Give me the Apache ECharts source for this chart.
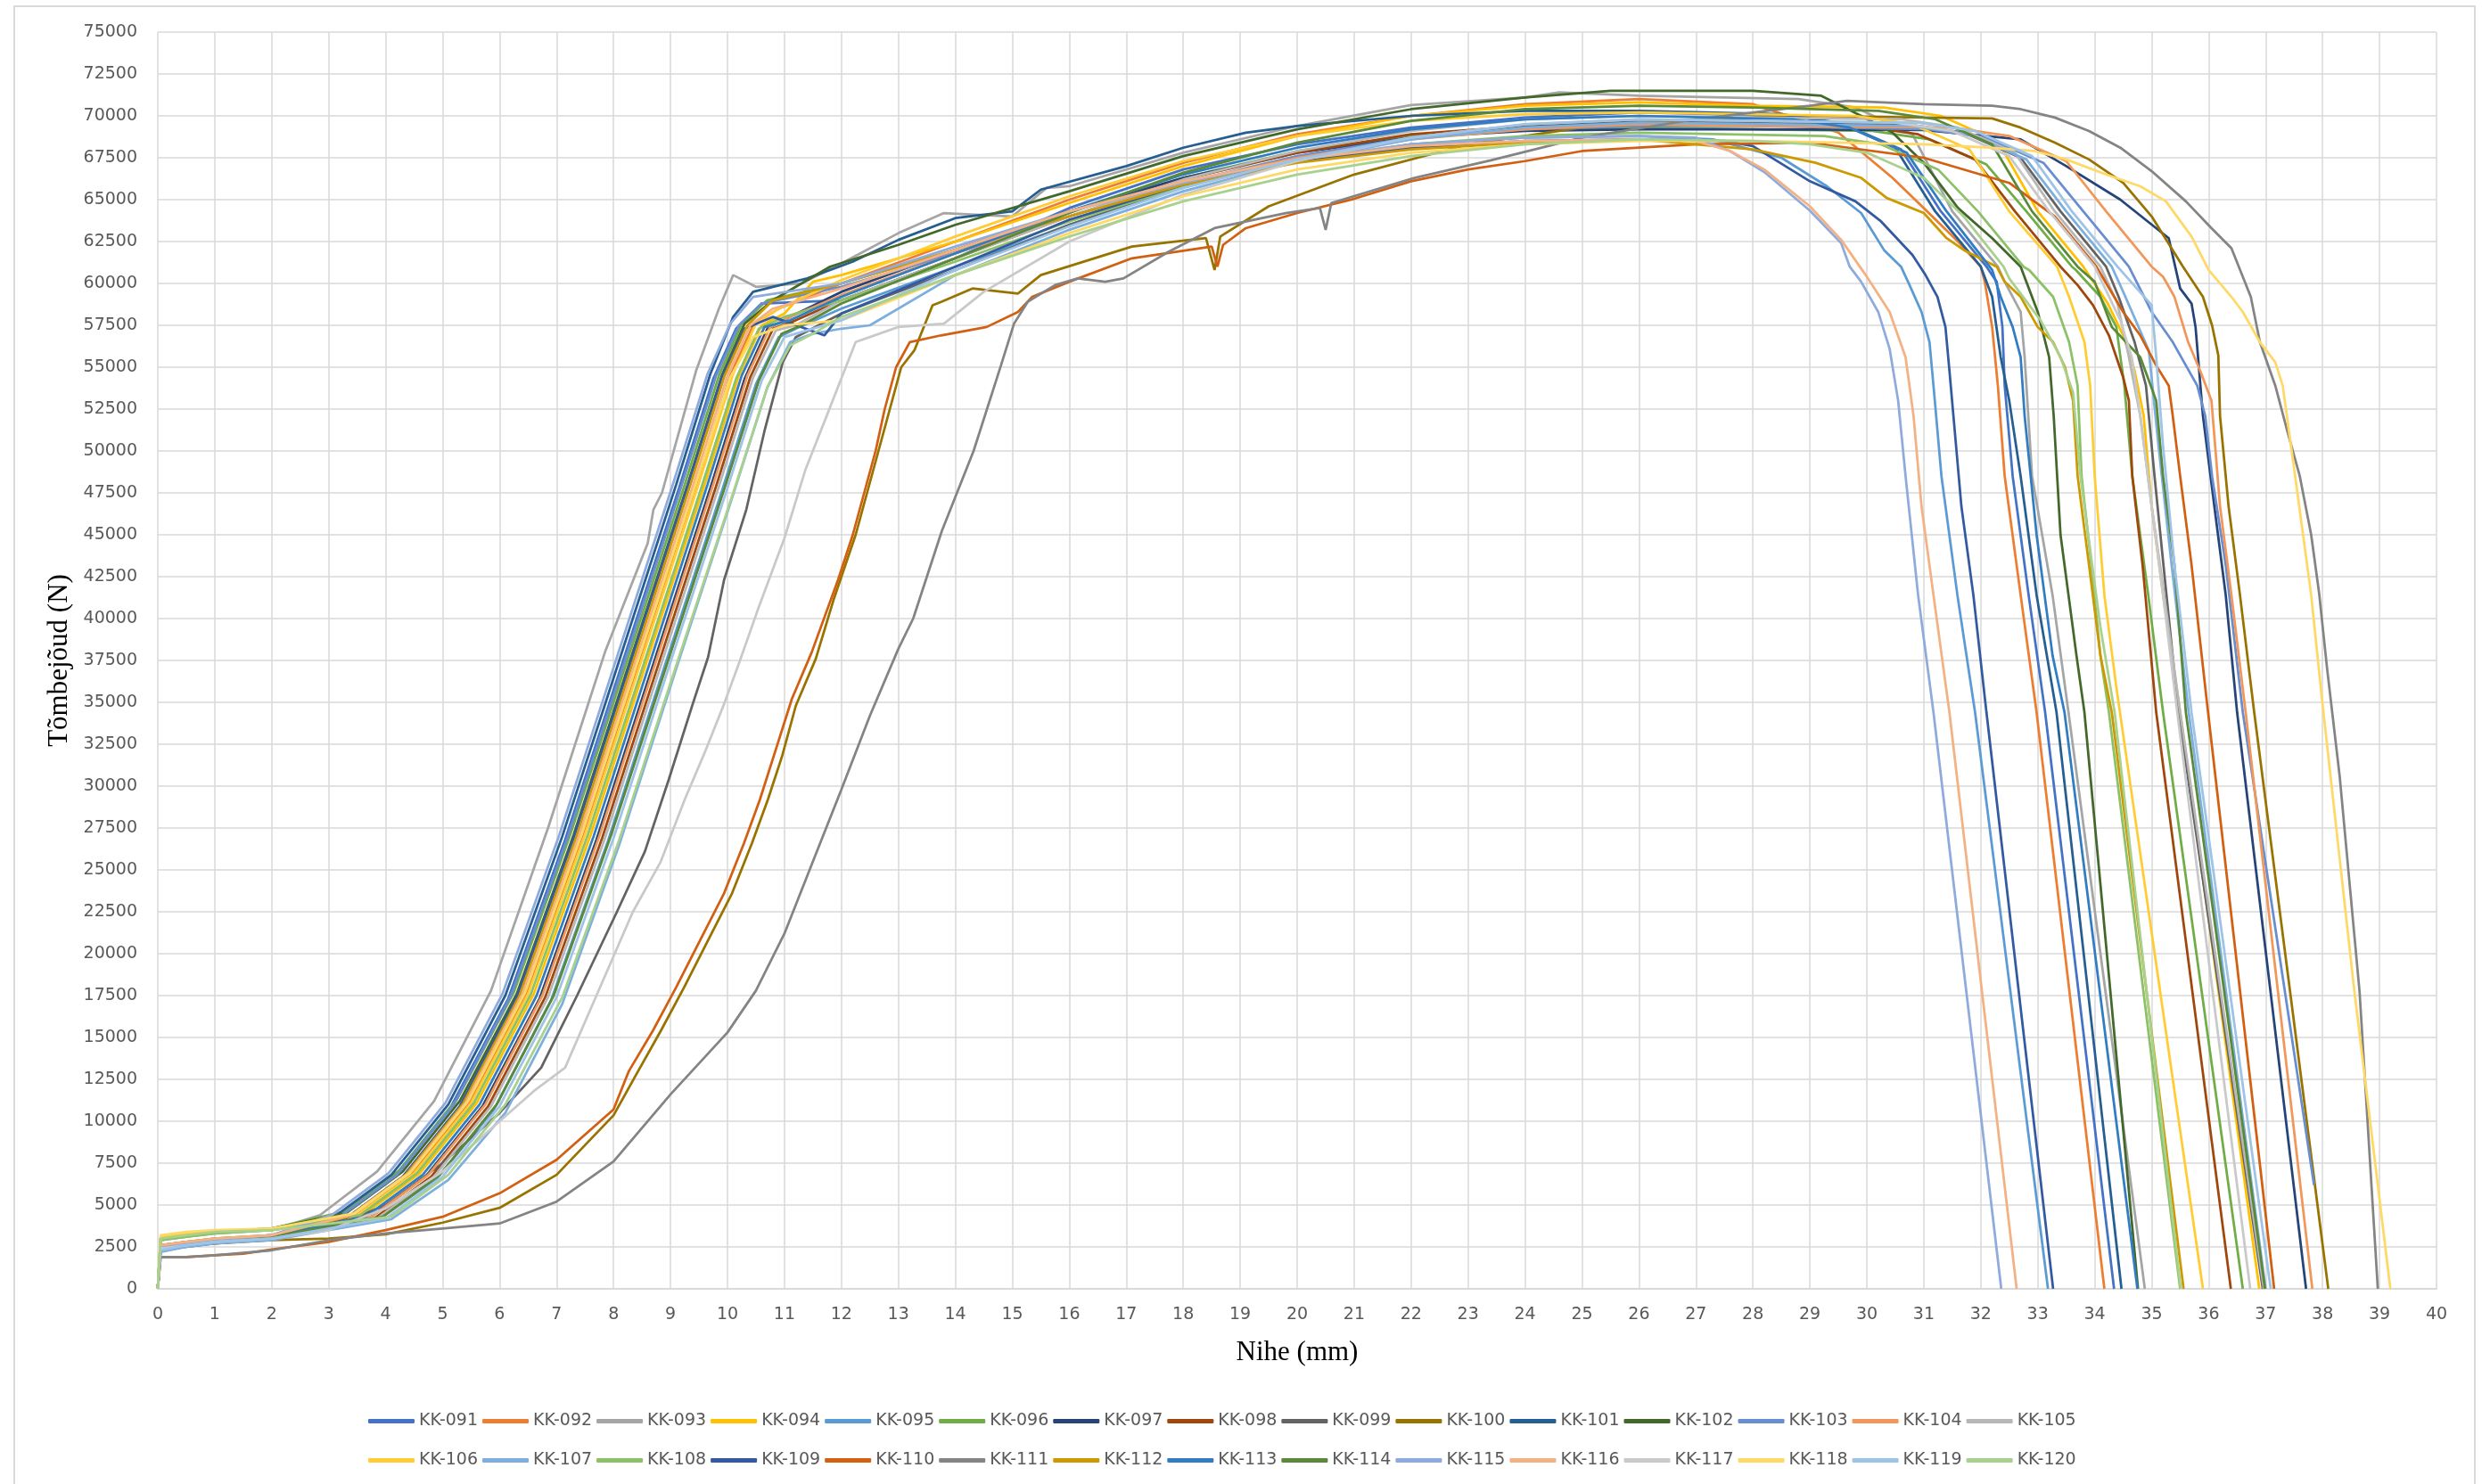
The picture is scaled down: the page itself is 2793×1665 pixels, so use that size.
<!DOCTYPE html>
<html>
<head>
<meta charset="utf-8">
<script src="https://cdn.jsdelivr.net/npm/echarts@6/dist/echarts.min.js"></script>
<style>
  html, body { margin: 0; padding: 0; background: #ffffff; }
  #chart { width: 2793px; height: 1665px; }
</style>
</head>
<body>
<div id="chart"></div>
<script>
// Tensile test curves: displacement (mm) vs. tensile force (N), specimens KK-091 ... KK-120
const seriesNames = ['KK-091','KK-092','KK-093','KK-094','KK-095','KK-096','KK-097','KK-098','KK-099','KK-100',
  'KK-101','KK-102','KK-103','KK-104','KK-105','KK-106','KK-107','KK-108','KK-109','KK-110',
  'KK-111','KK-112','KK-113','KK-114','KK-115','KK-116','KK-117','KK-118','KK-119','KK-120'];

const seriesColors = ['#4472C4','#ED7D31','#A5A5A5','#FFC000','#5B9BD5','#70AD47','#264478','#9E480E','#636363','#997300',
  '#255E91','#43682B','#698ED0','#F1975A','#B7B7B7','#FFCD33','#7CAFDD','#8CC168','#335AA1','#D26012',
  '#848484','#CC9A00','#327DC2','#5A8A39','#8FAADC','#F4B183','#C9C9C9','#FFD966','#9DC3E6','#A9D18E'];

const kk091 = [[0,0],[0.05,2400],[0.5,2700],[1,2800],[2,3100],[3.15,4200],[4.15,6700],[5.15,10900],[6.15,17300],[7.15,26800],[8.15,37300],[9.15,47800],[9.75,54300],[10.15,57300],[10.6,58800],[12,59000],[14,61500],[16,64500],[18,66800],[20,68300],[22,69300],[24,69900],[26,70200],[28.6,70000],[29.6,69500],[30.6,68000],[31.3,64300],[32.1,61000],[32.28,60100],[32.38,57400],[32.42,53900],[32.56,48500],[32.84,41400],[33.13,34400],[34.34,0]];
const kk092 = [[0,0],[0.05,2600],[0.5,2800],[1,2900],[2,3200],[3.45,4300],[4.45,6800],[5.45,11000],[6.45,17500],[7.45,27000],[8.45,37500],[9.45,48000],[10.05,54500],[10.45,57500],[10.9,58500],[12,60000],[14,62500],[16,65000],[18,67200],[20,68900],[22,70000],[24,70700],[26,71000],[28,70700],[29.5,69000],[30.45,66300],[31,64500],[31.6,62500],[32,61000],[32.07,60100],[32.2,57400],[32.3,53900],[32.42,48500],[32.7,41400],[32.98,34400],[34.17,0]];
const kk093 = [[0,0],[0.05,2900],[0.5,3100],[1,3300],[2,3500],[2.85,4400],[3.85,7000],[4.85,11200],[5.85,17800],[6.85,27500],[7.85,38000],[8.6,44500],[8.7,46500],[8.85,47500],[9.45,54800],[9.85,58500],[10.1,60500],[10.5,59800],[11.3,60000],[12,61200],[13,63000],[13.8,64200],[15,64000],[15.6,65700],[16,65800],[18,67800],[20,69400],[22,70650],[24,71100],[24.6,71400],[26,71200],[28.8,71000],[29.8,70500],[30.8,68900],[31.5,64300],[32.3,61000],[32.42,60100],[32.7,58300],[32.77,55600],[32.9,48500],[33.26,41400],[33.54,34400],[34.88,0]];
const kk094 = [[0,0],[0.05,3100],[0.5,3300],[1,3400],[2,3500],[3.6,4400],[4.6,6900],[5.6,11100],[6.6,17600],[7.6,27100],[8.6,37600],[9.6,48000],[10.2,54500],[10.6,57500],[11,58200],[11.5,60100],[12,60500],[14,62500],[16,64800],[18,67000],[20,68800],[22,70000],[24,70600],[26,70800],[28,70600],[30.3,70500],[31.3,70000],[32.3,68500],[33,64300],[33.8,61000],[34.23,58800],[34.5,56900],[34.7,54800],[34.86,52100],[35,46700],[35.2,41400],[35.5,34400],[36.89,0]];
const kk095 = [[0,0],[0.05,2300],[0.5,2600],[1,2800],[2,3000],[3.9,4200],[4.9,6600],[5.9,10700],[6.9,17200],[7.9,26700],[8.9,37200],[9.9,47600],[10.5,54000],[10.9,56800],[11.2,57300],[12,58500],[14,61000],[16,63500],[18,65800],[20,67300],[22,68300],[24,68700],[26,68800],[27.3,68600],[28.5,67500],[29.3,65800],[29.9,64200],[30.3,62000],[30.6,61000],[30.75,59900],[30.96,58300],[31.1,56500],[31.17,53900],[31.31,48500],[31.59,41400],[31.9,34400],[33.18,0]];
const kk096 = [[0,0],[0.05,3000],[0.5,3200],[1,3400],[2,3600],[3.25,4600],[4.25,7100],[5.25,11300],[6.25,17700],[7.25,27200],[8.25,37600],[9.25,48000],[9.85,54500],[10.25,57600],[10.7,59000],[12,60000],[14,62000],[16,64300],[18,66300],[20,67900],[22,68800],[24,69200],[26,69300],[28,69200],[30.1,69100],[31.1,68600],[32.1,67100],[32.8,64300],[33.6,61000],[33.67,60800],[34.1,59200],[34.38,57400],[34.52,53900],[34.66,48500],[34.94,41400],[35.2,34400],[36.6,0]];
const kk097 = [[0,0],[0.05,2500],[0.5,2700],[1,2900],[2,3100],[3.7,4200],[4.7,6700],[5.7,10900],[6.7,17300],[7.7,26800],[8.7,37300],[9.7,47800],[10.3,54300],[10.7,57300],[11.1,58000],[12,59500],[14,62000],[16,64300],[18,66300],[20,67800],[22,68700],[24,69100],[26,69200],[28,69200],[31,69150],[32.7,68600],[33.5,67000],[34.45,65000],[35.3,62700],[35.5,59700],[35.7,58800],[35.77,57400],[35.9,52100],[36.1,46700],[36.3,41400],[36.5,34400],[37.71,0]];
const kk098 = [[0,0],[0.05,2400],[0.5,2600],[1,2800],[2,3000],[3.8,4200],[4.8,6700],[5.8,10900],[6.8,17400],[7.8,26900],[8.8,37400],[9.8,47900],[10.4,54400],[10.8,57300],[11.2,57800],[12,59000],[14,61500],[16,64000],[18,66200],[20,67800],[22,68900],[24,69400],[26,69600],[28,69500],[29.9,69400],[30.9,68900],[31.9,67400],[32.6,64300],[33.4,61000],[33.7,59900],[33.97,58700],[34.25,56900],[34.5,54400],[34.6,53000],[34.66,48500],[34.84,43200],[35.08,34400],[36.39,0]];
const kk099 = [[0,0],[0.05,2300],[0.5,2500],[1,2700],[2,3000],[3,3600],[4,5000],[5,7500],[6,10500],[6.73,13200],[7.36,17500],[8.06,22500],[8.55,26100],[8.97,30400],[9.39,34900],[9.66,37700],[9.94,42300],[10.33,46500],[10.65,51200],[10.97,55300],[11.2,56800],[12,58200],[14,60800],[16,63500],[18,65800],[20,67500],[22,68700],[24,69400],[26,69700],[28,69600],[30.7,69500],[31.7,69000],[32.7,67500],[33.4,64300],[34.2,61000],[34.42,59200],[34.7,56500],[34.9,53900],[35.05,48500],[35.26,41400],[35.47,34400],[36.95,0]];
const kk100 = [[0,0],[0.05,2400],[0.5,2600],[1,2700],[2,2900],[3,3000],[4,3250],[5,3950],[6,4830],[7,6800],[8,10350],[8.4,12800],[8.83,15400],[9.24,18000],[9.66,20800],[10.08,23600],[10.43,26600],[10.71,29200],[10.96,31800],[11.2,34800],[11.55,37600],[11.87,41200],[12.25,45000],[12.65,50000],[13.05,55000],[13.28,56000],[13.6,58700],[13.75,58900],[14.3,59700],[15.1,59400],[15.5,60500],[17.1,62200],[18.4,62700],[18.55,60800],[18.65,62800],[19.5,64600],[21,66500],[23,68300],[25,69300],[27,69800],[29,70000],[31,69900],[32.2,69850],[32.7,69300],[33.3,68400],[33.9,67400],[34.5,66000],[35,64000],[35.55,61000],[35.9,59200],[36.06,57500],[36.17,55700],[36.2,52100],[36.35,46700],[36.55,41400],[36.8,34400],[38.1,0]];
const kk101 = [[0,0],[0.05,2500],[0.5,2700],[1,2900],[2,3200],[3.1,4300],[4.1,6800],[5.1,11000],[6.1,17500],[7.1,27000],[8.1,37500],[9.1,48000],[9.7,54600],[10.1,58000],[10.45,59500],[11.4,60300],[12.2,61300],[13,62600],[14,63900],[15,64300],[15.5,65600],[17,67000],[18,68100],[19.1,69000],[20,69400],[22,70000],[24,70300],[26,70300],[28.5,70100],[29.5,69600],[30.5,68100],[31.2,64300],[32,61000],[32.2,59200],[32.35,55600],[32.5,53000],[32.7,48500],[32.98,41400],[33.33,34400],[34.47,0]];
const kk102 = [[0,0],[0.05,3000],[0.5,3300],[1,3400],[2,3600],[3.3,4500],[4.3,7000],[5.3,11200],[6.3,17600],[7.3,27100],[8.3,37600],[9.3,48000],[9.9,54500],[10.3,57600],[10.8,59000],[11.8,61000],[13,62300],[14,63500],[16,65500],[18,67600],[20,69200],[22,70400],[24,71100],[25.5,71500],[28,71500],[29.2,71200],[29.9,70000],[30.45,69000],[31,67200],[31.6,64500],[32.2,62700],[32.7,61000],[33,58300],[33.2,55600],[33.28,52100],[33.4,45000],[33.68,37800],[33.82,34400],[34.76,0]];
const kk103 = [[0,0],[0.05,2500],[0.5,2700],[1,2900],[2,3100],[3.2,4300],[4.2,6800],[5.2,11000],[6.2,17500],[7.2,27000],[8.2,37500],[9.2,48000],[9.8,54500],[10.2,57500],[10.6,58800],[12,59800],[14,61800],[16,64000],[18,66000],[20,67600],[22,68700],[24,69200],[26,69400],[28,69400],[31.1,69200],[32.1,68700],[33.1,67200],[33.8,64300],[34.6,61000],[35,58300],[35.37,56500],[35.8,53900],[35.94,52100],[36.06,48500],[36.3,43200],[36.6,34400],[37.85,6200]];
const kk104 = [[0,0],[0.05,2600],[0.5,2800],[1,3000],[2,3200],[3.75,4300],[4.75,6800],[5.75,11000],[6.75,17500],[7.75,27000],[8.75,37500],[9.75,48000],[10.35,54500],[10.75,57400],[11.1,58000],[12,59300],[14,61800],[16,64000],[18,66000],[20,67500],[22,68600],[24,69200],[26,69500],[28,69400],[31.5,69300],[32.5,68800],[33.5,67300],[34.2,64300],[35,61000],[35.2,60400],[35.4,59200],[35.64,56500],[35.85,54800],[36.05,53000],[36.2,46700],[36.4,41400],[36.65,34400],[37.82,0]];
const kk105 = [[0,0],[0.05,2400],[0.5,2600],[1,2800],[2,3000],[3.85,4200],[4.85,6700],[5.85,10900],[6.85,17400],[7.85,26900],[8.85,37400],[9.85,47900],[10.45,54400],[10.85,57200],[11.2,57500],[12,59000],[14,61500],[16,64000],[18,66200],[20,67900],[22,69100],[24,69800],[26,70000],[28,69900],[30.6,69800],[31.6,69300],[32.6,67800],[33.3,64300],[34.1,61000],[34.4,58800],[34.6,55600],[34.8,52100],[35,46700],[35.22,41400],[35.5,34400],[36.97,0]];
const kk106 = [[0,0],[0.05,3100],[0.5,3300],[1,3400],[2,3600],[3.5,4400],[4.5,6900],[5.5,11100],[6.5,17600],[7.5,27100],[8.5,37600],[9.5,48100],[10.1,54600],[10.5,57600],[10.9,58500],[12,60200],[14,62800],[16,65200],[18,67300],[20,68800],[22,69700],[24,70100],[26,70200],[29.8,70000],[30.8,69500],[31.8,68000],[32.5,64300],[33.34,61000],[33.55,59200],[33.82,56500],[33.92,53900],[34,48500],[34.17,41400],[34.38,35900],[35.9,0]];
const kk107 = [[0,0],[0.05,2200],[0.5,2500],[1,2700],[2,2900],[4.1,4150],[5.1,6500],[6.1,10500],[7.1,17000],[8.1,26500],[9.1,37000],[10.1,47400],[10.7,53800],[11.1,56500],[11.5,57000],[12,57300],[12.5,57500],[14,60500],[16,63200],[18,65500],[20,67300],[22,68600],[24,69300],[26,69600],[30.8,69400],[31.8,68900],[32.8,67400],[33.5,64300],[34.3,61000],[34.5,59500],[34.95,56000],[35.12,50300],[35.35,43200],[35.65,34400],[37,0]];
const kk108 = [[0,0],[0.05,2900],[0.5,3100],[1,3300],[2,3500],[3.55,4400],[4.55,6900],[5.55,11100],[6.55,17600],[7.55,27100],[8.55,37500],[9.55,47900],[10.15,54300],[10.55,57300],[11,58000],[12,59000],[14,61300],[16,63700],[18,65800],[20,67300],[22,68300],[24,68800],[26,69000],[29.25,68800],[30.25,68300],[31.25,66800],[31.95,64300],[32.75,61000],[32.85,60800],[33.27,59200],[33.55,56500],[33.7,53900],[33.77,48500],[33.94,43200],[34.1,37800],[34.25,34400],[35.5,0]];
const kk109 = [[0,0],[0.05,2400],[0.5,2700],[1,2900],[2,3100],[3.3,4200],[4.3,6700],[5.3,10900],[6.3,17400],[7.3,26900],[8.3,37400],[9.3,47900],[9.9,54400],[10.3,57300],[10.8,58000],[11.7,56900],[12,58200],[14,61000],[16,63800],[18,65900],[20,67300],[22,68100],[24,68500],[26,68600],[27.5,68500],[28,68200],[29,66100],[29.8,64900],[30.25,63700],[30.8,61700],[31.03,60500],[31.24,59200],[31.38,57400],[31.45,54800],[31.52,52100],[31.66,46700],[31.87,41400],[32.1,34400],[33.27,0]];
const kk110 = [[0,0],[0.05,1900],[0.5,1900],[1,2000],[1.5,2100],[2,2350],[3,2800],[4,3500],[5,4300],[6,5700],[7,7700],[8,10700],[8.27,13000],[8.69,15400],[9.1,18000],[9.52,20800],[9.94,23600],[10.29,26600],[10.57,29200],[10.85,32200],[11.13,35200],[11.48,38000],[11.94,42300],[12.2,45000],[12.4,47500],[12.6,50000],[12.76,52500],[12.96,55000],[13.2,56500],[13.75,56900],[14.55,57400],[15.1,58300],[15.35,59200],[16,60100],[17.1,61500],[18.5,62200],[18.6,61000],[18.7,62300],[19.1,63300],[20,64200],[21,65050],[22,66100],[23,66800],[24,67300],[25,67900],[27,68300],[29,68400],[31,67500],[32.5,66000],[33.3,64000],[34.03,61000],[34.5,58300],[34.8,56900],[35.08,55100],[35.3,53900],[35.37,52100],[35.5,48500],[35.7,43200],[35.99,34400],[37.15,0]];
const kk111 = [[0,0],[0.05,1900],[0.5,1900],[1,2000],[2,2300],[3,2900],[4,3300],[5,3600],[6,3900],[7,5200],[8,7600],[9,11600],[10,15300],[10.5,17800],[11,21200],[11.5,25500],[12,29800],[12.5,34200],[13,38200],[13.26,40000],[13.76,45200],[14.32,50000],[14.8,55100],[15.03,57600],[15.27,58900],[15.75,59900],[16.15,60300],[16.63,60100],[16.95,60300],[17.75,61900],[18.55,63300],[19.8,64200],[20.4,64500],[20.5,63200],[20.6,64800],[22.06,66300],[23.4,67350],[25,68700],[27,69800],[29,70600],[29.65,70900],[31,70700],[32.2,70600],[32.7,70400],[33.3,69900],[33.9,69100],[34.45,68100],[35,66700],[35.6,64900],[36.05,63300],[36.4,62100],[36.74,59200],[36.9,56500],[37.17,53900],[37.38,51200],[37.6,48500],[37.8,45000],[37.94,41500],[38.08,37000],[38.3,30600],[38.65,17700],[38.97,0]];
const kk112 = [[0,0],[0.05,2600],[0.5,2800],[1,3000],[2,3200],[3.35,4300],[4.35,6800],[5.35,11000],[6.35,17500],[7.35,27000],[8.35,37500],[9.35,48000],[9.95,54500],[10.35,57500],[10.8,59000],[12,60000],[14,62000],[16,64000],[18,65900],[20,67200],[22,68000],[24,68400],[26,68600],[28,68000],[29.1,67200],[29.9,66300],[30.35,65100],[31,64200],[31.4,62700],[31.7,62000],[32.28,61000],[32.42,60100],[32.7,59200],[33,57400],[33.27,56500],[33.48,55000],[33.62,53000],[33.7,48500],[33.9,43200],[34.1,37800],[34.3,34400],[35.56,0]];
const kk113 = [[0,0],[0.05,2500],[0.5,2700],[1,2900],[2,3100],[3.65,4300],[4.65,6800],[5.65,11000],[6.65,17500],[7.65,27000],[8.65,37500],[9.65,48000],[10.25,54500],[10.65,57400],[11.1,57800],[12,59200],[14,61800],[16,64300],[18,66500],[20,68100],[22,69200],[24,69800],[26,70000],[28.7,69800],[29.7,69300],[30.7,67800],[31.4,64300],[32.2,60800],[32.35,59200],[32.56,57400],[32.7,55600],[32.77,52100],[32.98,45000],[33.26,37800],[33.47,34400],[34.75,0]];
const kk114 = [[0,0],[0.05,2500],[0.5,2700],[1,2900],[2,3100],[3.95,4300],[4.95,6800],[5.95,11000],[6.95,17500],[7.95,27000],[8.95,37400],[9.95,47800],[10.55,54200],[10.95,57000],[11.3,57500],[12,58800],[14,61500],[16,64200],[18,66600],[20,68400],[22,69700],[24,70400],[26,70600],[28,70500],[30.2,70300],[31.2,69800],[32.2,68300],[32.9,64300],[33.7,61000],[34,60100],[34.3,57400],[34.8,55600],[34.93,54400],[35.08,53000],[35.2,48500],[35.4,43200],[35.6,34400],[36.99,0]];
const kk115 = [[0,0],[0.05,2500],[0.5,2700],[1,2900],[2,3200],[3.05,4400],[4.05,6900],[5.05,11100],[6.05,17600],[7.05,27100],[8.05,37600],[9.05,48100],[9.65,54600],[10.05,57600],[10.45,59200],[12,60000],[14,62200],[16,64300],[18,66000],[20,67400],[22,68300],[24,68700],[26,68800],[27,68700],[27.6,67900],[28.2,66650],[29,64350],[29.55,62400],[29.7,61000],[29.9,60100],[30.2,58300],[30.4,56100],[30.55,53000],[30.68,48500],[30.9,41400],[31.17,34400],[32.36,0]];
const kk116 = [[0,0],[0.05,2600],[0.5,2800],[1,3000],[2,3200],[3.4,4400],[4.4,6900],[5.4,11100],[6.4,17600],[7.4,27100],[8.4,37600],[9.4,48000],[10,54500],[10.4,57500],[10.8,58500],[12,59700],[14,62000],[16,64300],[18,66100],[20,67400],[22,68200],[24,68500],[26,68600],[27,68500],[27.6,67900],[28.2,66800],[29,64600],[29.55,62600],[29.98,60500],[30.4,58300],[30.68,55600],[30.82,52100],[30.96,46700],[31.17,41400],[31.45,34400],[32.63,0]];
const kk117 = [[0,0],[0.05,2400],[0.5,2600],[1,2800],[2,3000],[3,3500],[4,4800],[5,7000],[6,10000],[6.6,11800],[7.15,13200],[7.7,17500],[8.34,22500],[8.83,25500],[9.25,29200],[9.6,32000],[9.94,34900],[10.22,37500],[10.53,40500],[11,44800],[11.37,48900],[11.8,52600],[12.25,56500],[13,57400],[13.8,57600],[14.5,59500],[16,62500],[18,65300],[20,67300],[22,68700],[24,69500],[26,69800],[30.5,69600],[31.5,69100],[32.5,67600],[33.2,64300],[34,61000],[34.45,57800],[34.65,55600],[34.8,52100],[35,46700],[35.2,41400],[35.45,34400],[36.73,0]];
const kk118 = [[0,0],[0.05,3200],[0.5,3400],[1,3500],[2,3600],[3.45,4500],[4.45,7000],[5.45,11200],[6.45,17700],[7.45,27200],[8.45,37700],[9.45,48100],[10.05,54400],[10.45,56800],[11,57500],[12,57800],[14,60500],[16,63000],[18,65200],[20,66800],[22,67800],[24,68300],[26,68500],[28,68500],[31,68300],[32.15,68100],[32.95,67900],[33.5,67400],[34.2,66500],[34.8,65800],[35.25,64900],[35.7,62800],[36,60800],[36.4,59200],[36.6,58300],[36.9,56500],[37.17,55300],[37.3,53900],[37.45,50200],[37.59,46700],[37.8,41400],[37.98,35500],[38.55,18000],[39.19,0]];
const kk119 = [[0,0],[0.05,2300],[0.5,2600],[1,2800],[2,3000],[4,4200],[5,6700],[6,10900],[7,17400],[8,26900],[9,37400],[10,47800],[10.6,54200],[11,56800],[11.4,57200],[12,57800],[14,60800],[16,63400],[18,65700],[20,67400],[22,68700],[24,69500],[26,69800],[28,69700],[30.9,69600],[31.9,69100],[32.9,67600],[33.6,64300],[34.4,61000],[35,58700],[35.08,55600],[35.2,50300],[35.4,43200],[35.7,34400],[37.09,0]];
const kk120 = [[0,0],[0.05,3000],[0.5,3200],[1,3400],[2,3500],[4.1,4300],[5.1,6800],[6.1,11000],[7.1,17400],[8.1,26800],[9.1,37200],[10.1,47500],[10.7,53800],[11.1,56300],[11.5,57000],[12,58000],[14,60500],[16,62800],[18,64900],[20,66500],[22,67600],[24,68300],[26,68600],[28,68500],[29,68300],[30,67800],[31,66300],[31.7,64000],[32.4,61000],[32.5,60300],[33.05,57800],[33.4,55600],[33.62,53500],[33.75,48500],[34.1,39500],[34.35,34400],[35.51,0]];

const seriesData = [kk091,kk092,kk093,kk094,kk095,kk096,kk097,kk098,kk099,kk100,
  kk101,kk102,kk103,kk104,kk105,kk106,kk107,kk108,kk109,kk110,
  kk111,kk112,kk113,kk114,kk115,kk116,kk117,kk118,kk119,kk120];

const axisFont = 'DejaVu Sans';
const titleFont = 'Liberation Serif';

const chart = echarts.init(document.getElementById('chart'), null, { renderer: 'canvas' });

const legendCommon = {
  orient: 'horizontal',
  left: 408,
  icon: 'roundRect',
  itemWidth: 52,
  itemHeight: 5,
  itemGap: 5,
  selectedMode: false,
  textStyle: { fontFamily: axisFont, fontSize: 19, color: '#595959', width: 71 }
};

// plain integers on the ticks, no thousands separator
const plainNumber = v => String(v);

chart.setOption({
  animation: false,
  backgroundColor: '#ffffff',
  color: seriesColors,
  graphic: [{
    type: 'rect',
    silent: true,
    shape: { x: 16, y: 7, width: 2760, height: 1700 },
    style: { fill: 'none', stroke: '#D9D9D9', lineWidth: 2 }
  }],
  grid: { left: 177, right: 60, top: 36, bottom: 219, containLabel: false },
  legend: [
    Object.assign({}, legendCommon, { top: 1580, data: seriesNames.slice(0, 15) }),
    Object.assign({}, legendCommon, { top: 1624, data: seriesNames.slice(15) })
  ],
  xAxis: {
    type: 'value',
    min: 0, max: 40, interval: 1,
    name: 'Nihe (mm)',
    nameLocation: 'middle',
    nameGap: 56,
    nameTextStyle: { fontFamily: titleFont, fontSize: 31, color: '#000000' },
    axisLine: { show: true, lineStyle: { color: '#D9D9D9', width: 2 } },
    axisTick: { show: false },
    axisLabel: { fontFamily: axisFont, fontSize: 19, color: '#595959', margin: 20, formatter: plainNumber },
    splitLine: { show: true, lineStyle: { color: '#D9D9D9', width: 1.5 } }
  },
  yAxis: {
    type: 'value',
    min: 0, max: 75000, interval: 2500,
    name: 'Tõmbejõud (N)',
    nameLocation: 'middle',
    nameGap: 86,
    nameTextStyle: { fontFamily: titleFont, fontSize: 31, color: '#000000' },
    axisLine: { show: false },
    axisTick: { show: false },
    axisLabel: { fontFamily: axisFont, fontSize: 19, color: '#595959', margin: 23, formatter: plainNumber },
    splitLine: { show: true, lineStyle: { color: '#D9D9D9', width: 1.5 } }
  },
  series: seriesNames.map((name, i) => ({
    name: name,
    type: 'line',
    data: seriesData[i],
    symbol: 'none',
    showSymbol: false,
    smooth: false,
    lineStyle: { width: 2.75, color: seriesColors[i] },
    itemStyle: { color: seriesColors[i] },
    emphasis: { disabled: true }
  }))
});
</script>
</body>
</html>
